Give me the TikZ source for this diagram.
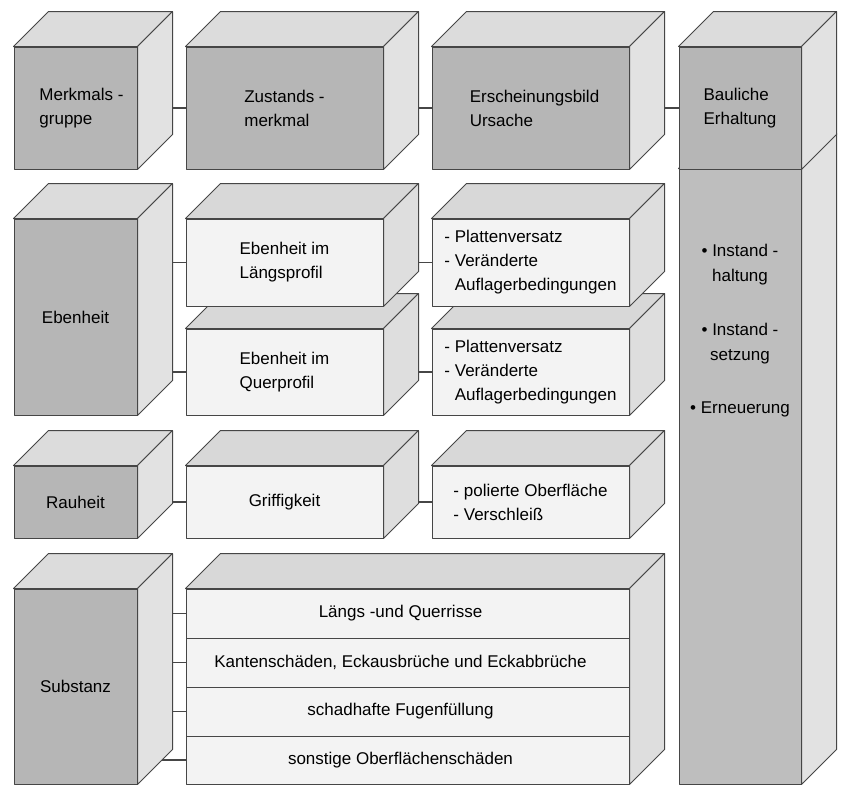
\documentclass[tikz,border=0pt]{standalone}
\usepackage{fontspec}
\setmainfont{Liberation Sans}
\usetikzlibrary{backgrounds}
\definecolor{edgec}{RGB}{70,70,70}
\definecolor{dfront}{RGB}{182,182,182}
\definecolor{dtop}{RGB}{220,220,220}
\definecolor{dside}{RGB}{226,226,226}
\definecolor{lfront}{RGB}{243,243,243}
\definecolor{ltop}{RGB}{216,216,216}
\definecolor{lside}{RGB}{222,222,222}
\definecolor{cfront}{RGB}{190,190,190}
\tikzset{
  edge/.style={draw=edgec, line width=1pt, line join=round},
  boxfront/.style={edge, inner sep=0pt, align=left, font=\fontsize{17}{24}\selectfont},
  conn/.style={draw=edgec, line width=1.3pt},
  txt/.style={font=\fontsize{17}{25}\selectfont, inner sep=0pt}
}
\newcommand{\mkcube}[9]{%
  \node[boxfront, fill=#6, minimum width={(#4-#2)*1pt}, minimum height={(#5-#3)*1pt}] (#1) at ({(#2+#4)/2},{(#3+#5)/2}) {#9};
  \draw[edge, fill=#7] (#1.north west) -- ++(35,-35) -- ([shift={(35,-35)}]#1.north east) -- (#1.north east) -- cycle;
  \draw[edge, fill=#8] (#1.north east) -- ++(35,-35) -- ([shift={(35,-35)}]#1.south east) -- (#1.south east) -- cycle;
}
\begin{document}
\begin{tikzpicture}[x=1pt, y=-1pt]
\useasboundingbox (0,0) rectangle (841,785);
% row 1
\mkcube{merk}{14}{47}{137}{169}{dfront}{dtop}{dside}{\hspace*{12pt}Merkmals -\\\hspace*{12pt}gruppe}
\mkcube{zust}{186}{47}{383}{169}{dfront}{dtop}{dside}{Zustands -\\merkmal}
\mkcube{ersch}{432}{47}{629}{169}{dfront}{dtop}{dside}{\hspace*{8pt}Erscheinungsbild\\\hspace*{8pt}Ursache}
% column
\mkcube{col}{679}{169}{801}{784}{cfront}{dtop}{dside}{}
\mkcube{baul}{679}{47}{801}{169}{dfront}{dtop}{dside}{Bauliche\\Erhaltung}
\node[txt, align=center] (coltext) at (740,331) {\textbullet{} Instand -\\haltung\\[29pt]\textbullet{} Instand -\\setzung\\[28pt]\textbullet{} Erneuerung};
% row 2
\mkcube{eben}{14}{219}{137}{415}{dfront}{dtop}{dside}{Ebenheit}
\mkcube{quer}{186}{329}{383}{415}{lfront}{ltop}{lside}{Ebenheit im\\Querprofil}
\mkcube{lang}{186}{219}{383}{306}{lfront}{ltop}{lside}{Ebenheit im\\Längsprofil}
\mkcube{plb}{432}{329}{629}{415}{lfront}{ltop}{lside}{- Plattenversatz\\- Veränderte\\\phantom{- }Auflagerbedingungen}
\mkcube{pla}{432}{219}{629}{306}{lfront}{ltop}{lside}{- Plattenversatz\\- Veränderte\\\phantom{- }Auflagerbedingungen}
% row 3
\mkcube{rauh}{14}{466}{137}{538}{dfront}{dtop}{dside}{Rauheit}
\mkcube{griff}{186}{466}{383}{538}{lfront}{ltop}{lside}{Griffigkeit}
\mkcube{pol}{432}{466}{629}{538}{lfront}{ltop}{lside}{- polierte Oberfläche\\- Verschleiß\hspace*{8pt}}
% row 4
\mkcube{subst}{14}{589}{137}{784}{dfront}{dtop}{dside}{Substanz}
\foreach \nm/\ya/\yb/\tx in {ra/589/638/{Längs -und Querrisse}, rb/638/687/{Kantenschäden, Eckausbrüche und Eckabbrüche}, rc/687/736/{schadhafte Fugenfüllung}, rd/736/784/{sonstige Oberflächenschäden}}{
  \node[boxfront, fill=lfront, minimum width=443pt, minimum height={(\yb-\ya)*1pt}] (\nm) at (407.5,{(\ya+\yb)/2}) {\hspace*{-14pt}\tx};
}
\draw[edge, fill=ltop] (ra.north west) -- ++(35,-35) -- ([shift={(35,-35)}]ra.north east) -- (ra.north east) -- cycle;
\draw[edge, fill=lside] (ra.north east) -- ++(35,-35) -- ([shift={(35,-35)}]rd.south east) -- (rd.south east) -- cycle;
% connectors
\begin{scope}[on background layer]
\fill[white] (0,0) rectangle (841,785);
\draw[conn] (merk.east) -- (zust.west);
\draw[conn] (zust.east) -- (ersch.west);
\draw[conn] (ersch.east) -- (baul.west);
\draw[conn] (lang.west -| eben.east) -- (lang.west);
\draw[conn] (quer.west -| eben.east) -- (quer.west);
\draw[conn] (lang.east) -- (pla.west);
\draw[conn] (quer.east) -- (plb.west);
\draw[conn] (rauh.east) -- (griff.west);
\draw[conn] (griff.east) -- (pol.west);
\foreach \nm in {ra,rb,rc,rd}{
  \draw[conn] (\nm.west -| subst.east) -- (\nm.west);
}
\end{scope}
\end{tikzpicture}
\end{document}
